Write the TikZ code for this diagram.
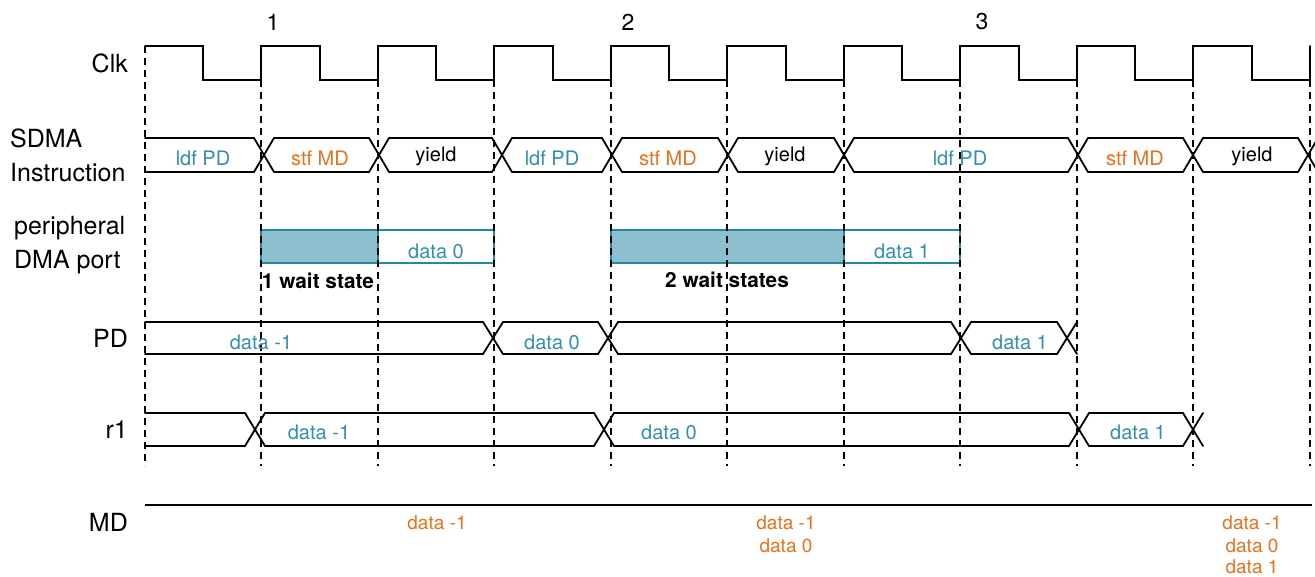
\documentclass[tikz,border=0pt]{standalone}
\usepackage{fontspec}
\setmainfont{TeX Gyre Heros}
\definecolor{tealtxt}{RGB}{52,143,172}
\definecolor{orangetxt}{RGB}{232,113,28}
\definecolor{waitfill}{RGB}{141,192,206}
\definecolor{waitline}{RGB}{38,135,165}
\begin{document}
\begin{tikzpicture}[x=1pt,y=-1pt,
  sig/.style={line width=1.8pt, line join=miter, line cap=round},
  gridline/.style={line width=2pt, dash pattern=on 7pt off 5pt},
  side/.style={font=\fontsize{25}{34}\selectfont, inner sep=0pt},
  num/.style={font=\fontsize{23}{28}\selectfont, inner sep=0pt},
  dat/.style={font=\fontsize{20}{24}\selectfont, inner sep=0pt, anchor=base},
  md/.style={font=\fontsize{19}{23}\selectfont, inner sep=0pt, anchor=base, text=orangetxt},
  waitlbl/.style={font=\bfseries\fontsize{20.8}{24}\selectfont, inner sep=0pt, anchor=base},
  waitbox/.style={draw=waitline, line width=1.8pt, fill=waitfill},
  databox/.style={draw=waitline, line width=1.8pt}]
\useasboundingbox (0,0) rectangle (1315,576);

% wait-state boxes
\draw[waitbox] (261,230) rectangle (378,263);
\draw[databox] (378,230) rectangle (494,263);
\draw[waitbox] (611,230) rectangle (844,263);
\draw[databox] (844,230) rectangle (960,263);

% grid lines
\draw[gridline] (145,46) -- (145,466);
\foreach \x in {261,378,494,611,727,844,960,1077,1193,1310} \draw[gridline] (\x,80) -- (\x,466);

% clock
\draw[sig] (145,46) \foreach \m/\b in {203/261,320/378,436/494,553/611,669/727,786/844,902/960,1019/1077,1135/1193,1252/1310} { -- (\m,46) -- (\m,80) -- (\b,80) -- (\b,46) };

% SDMA instruction bus
\draw[sig] (145,138) -- (254,138) -- (274,172) -- (369,172) -- (389,138) -- (492,138) -- (512,172) -- (602,172) -- (622,138) -- (718,138) -- (738,172) -- (834,172) -- (854,138) -- (1068,138) -- (1088,172) -- (1183,172) -- (1203,138) -- (1298,138) -- (1318,172);
\draw[sig] (145,172) -- (254,172) -- (274,138) -- (369,138) -- (389,172) -- (492,172) -- (512,138) -- (602,138) -- (622,172) -- (718,172) -- (738,138) -- (834,138) -- (854,172) -- (1068,172) -- (1088,138) -- (1183,138) -- (1203,172) -- (1298,172) -- (1318,138);

% PD bus
\draw[sig] (145,322) -- (483,322) -- (503,354) -- (598,354) -- (618,322) -- (951,322) -- (971,354) -- (1057,354) -- (1077,322);
\draw[sig] (145,354) -- (483,354) -- (503,322) -- (598,322) -- (618,354) -- (951,354) -- (971,322) -- (1057,322) -- (1077,354);

% r1 bus
\draw[sig] (145,413) -- (245,413) -- (265,446) -- (594,446) -- (614,413) -- (1069,413) -- (1089,446) -- (1183,446) -- (1203,413);
\draw[sig] (145,446) -- (245,446) -- (265,413) -- (594,413) -- (614,446) -- (1069,446) -- (1089,413) -- (1183,413) -- (1203,446);

% MD line
\draw[line width=2.4pt] (145,505) -- (1312,505);

% cycle numbers
\node[num] (n1) at (273,22) {1};
\node[num] (n2) at (628,22) {2};
\node[num] (n3) at (982,22) {3};

% side labels
\node[side, anchor=east] (lclk) at (128,63) {Clk};
\node[side, anchor=west, align=left] (lsdma) at (10,155) {SDMA\\Instruction};
\node[side, anchor=west, align=left] (lport) at (14,245) {peripheral\\DMA port};
\node[side, anchor=east] (lpd) at (128,338) {PD};
\node[side, anchor=east] (lr1) at (128,430) {r1};
\node[side, anchor=east] (lmd) at (128,522) {MD};

% instruction labels
\node[dat, text=tealtxt] (i1) at (203,165) {ldf PD};
\node[dat, text=orangetxt] (i2) at (320,165) {stf MD};
\node[dat] (i3) at (436,161) {yield};
\node[dat, text=tealtxt] (i4) at (552,165) {ldf PD};
\node[dat, text=orangetxt] (i5) at (668,165) {stf MD};
\node[dat] (i6) at (785,161) {yield};
\node[dat, text=tealtxt] (i7) at (960,165) {ldf PD};
\node[dat, text=orangetxt] (i8) at (1135,165) {stf MD};
\node[dat] (i9) at (1252,161) {yield};

% port labels
\node[dat, text=tealtxt] (p0) at (436,258) {data 0};
\node[dat, text=tealtxt] (p1) at (902,258) {data 1};
\node[waitlbl] (w1) at (318,288) {1 wait state};
\node[waitlbl] (w2) at (727,287) {2 wait states};

% PD labels
\node[dat, text=tealtxt] (pd1) at (261,349) {data -1};
\node[dat, text=tealtxt] (pd2) at (552,349) {data 0};
\node[dat, text=tealtxt] (pd3) at (1020,349) {data 1};

% r1 labels
\node[dat, text=tealtxt] (r1a) at (319,439) {data -1};
\node[dat, text=tealtxt] (r1b) at (669,439) {data 0};
\node[dat, text=tealtxt] (r1c) at (1138,439) {data 1};

% MD labels
\node[md] (m1) at (437,529) {data -1};
\node[md] (m2a) at (786,529) {data -1};
\node[md] (m2b) at (786,552) {data 0};
\node[md] (m3a) at (1252,529) {data -1};
\node[md] (m3b) at (1252,552) {data 0};
\node[md] (m3c) at (1252,573) {data 1};
\end{tikzpicture}
\end{document}
